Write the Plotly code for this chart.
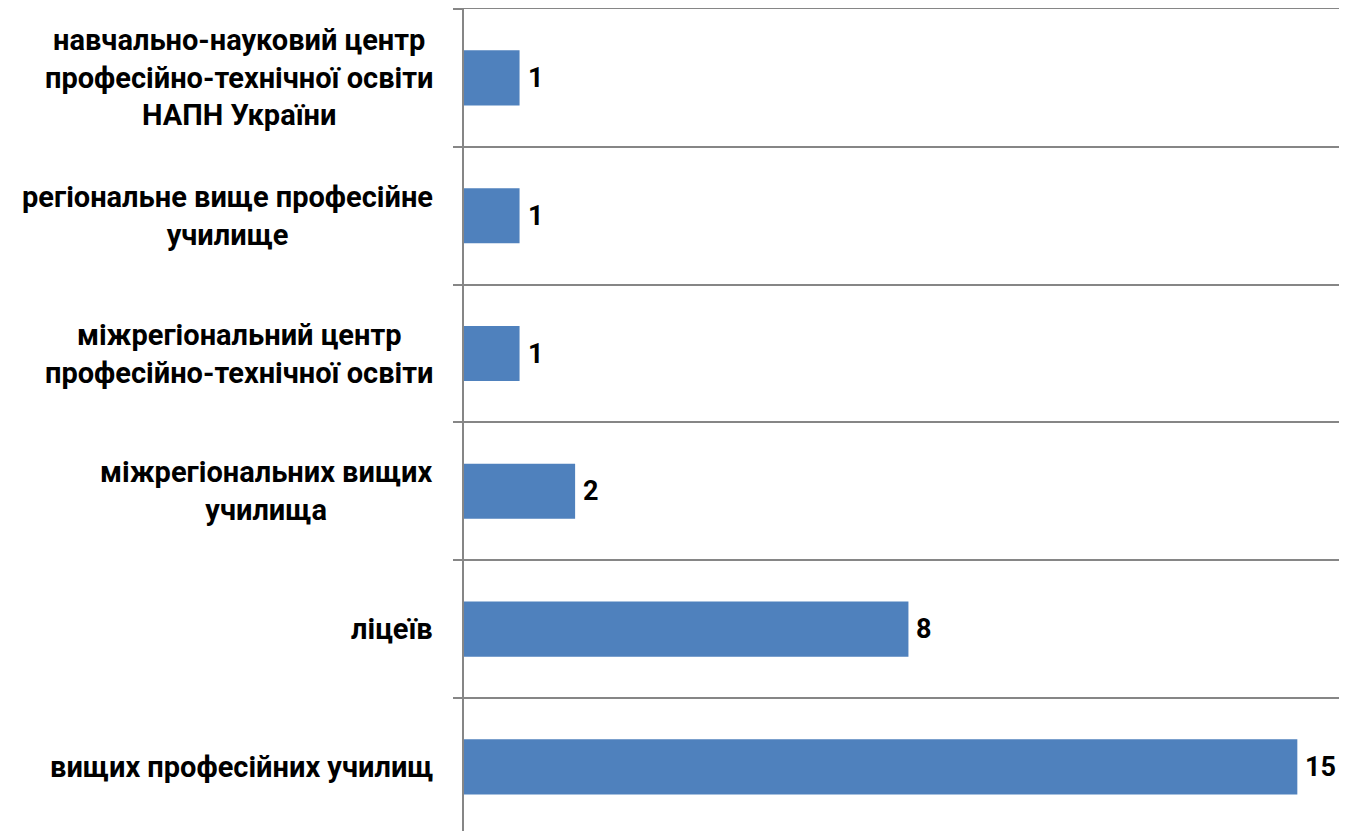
import plotly.graph_objects as go

# categories listed bottom-to-top (plotly puts the first category at the bottom)
categories = [
    "вищих професійних училищ",
    "ліцеїв",
    "міжрегіональних вищих<br>училища",
    "міжрегіональний центр<br>професійно-технічної освіти",
    "регіональне вище професійне<br>училище",
    "навчально-науковий центр<br>професійно-технічної освіти<br>НАПН України",
]
values = [15, 8, 2, 1, 1, 1]

bar_color = "#4F81BD"
grid_color = "#868686"
label_font = dict(family="Roboto", size=29, color="black")
value_font = dict(family="Roboto", size=27, color="black")

fig = go.Figure()
fig.add_trace(go.Bar(
    x=values,
    y=categories,
    orientation="h",
    marker=dict(color=bar_color, line=dict(width=0)),
    hoverinfo="x+y",
))

annotations = []
# category labels: block right-aligned, lines centred
for cat in categories:
    annotations.append(dict(
        x=0, y=cat, xref="paper", yref="y",
        text="<b>%s</b>" % cat,
        showarrow=False, xanchor="right", yanchor="middle",
        align="center", xshift=-29, font=label_font,
    ))
# value labels
for cat, v in zip(categories, values):
    annotations.append(dict(
        x=v, y=cat, xref="x", yref="y",
        text="<b>%d</b>" % v,
        showarrow=False, xanchor="left", yanchor="middle",
        xshift=6, font=value_font,
    ))

# page body has an 8px margin, so the figure sits 8px in from the corner
fig.update_layout(
    width=1331, height=823,
    margin=dict(l=456, r=0, t=1, b=0, autoexpand=False),
    plot_bgcolor="white",
    paper_bgcolor="white",
    bargap=0.6,
    showlegend=False,
    annotations=annotations,
    xaxis=dict(
        range=[0, 15.75], side="top", showticklabels=False, ticks="",
        showgrid=False, zeroline=False,
        showline=True, linecolor=grid_color, linewidth=1.5,
    ),
    yaxis=dict(
        type="category",
        range=[-0.465, 5.5],
        tickson="boundaries",
        showticklabels=False,
        ticks="outside", ticklen=9, tickcolor=grid_color, tickwidth=1.5,
        showgrid=True, gridcolor=grid_color, gridwidth=1.5,
        showline=True, linecolor=grid_color, linewidth=1.5,
    ),
)

fig.write_html("out.html")
